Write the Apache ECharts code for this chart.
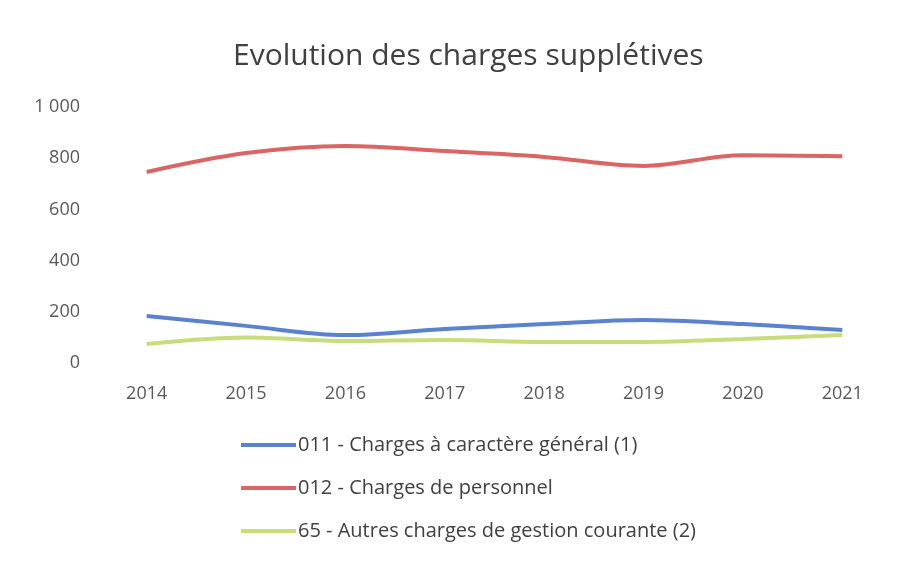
<!DOCTYPE html>
<html>
<head>
<meta charset="utf-8">
<script src="https://cdn.jsdelivr.net/npm/echarts@6/dist/echarts.min.js"></script>
<style>
  html, body { margin: 0; padding: 0; background: #fff; }
  #main { width: 906px; height: 562px; }
</style>
</head>
<body>
<div id="main"></div>
<script>
let years = ['2014', '2015', '2016', '2017', '2018', '2019', '2020', '2021'];
let chargesGenerales = [184, 145, 109, 133, 152, 168, 152, 129];
let chargesPersonnel = [746, 820, 848, 828, 805, 770, 812, 808];
let autresCharges = [74, 100, 86, 90, 82, 82, 94, 109];
let yTicks = [0, 200, 400, 600, 800, 1000];

let myChart = echarts.init(document.getElementById('main'));

let font = 'Open Sans';

function serie(name, values, color) {
    return {
        name: name,
        type: 'line',
        data: values,
        smooth: 0.35,
        symbol: 'none',
        lineStyle: { color: color, width: 4 },
        itemStyle: { color: color }
    };
}

let option = {
    backgroundColor: '#fff',
    textStyle: { fontFamily: font },
    title: {
        text: 'Evolution des charges supplétives',
        left: 228,
        top: 36,
        textStyle: { fontFamily: font, fontSize: 30, fontWeight: 'normal', color: '#404040' }
    },
    grid: { left: 97, right: 14, top: 107, bottom: 199 },
    xAxis: {
        type: 'category',
        data: years,
        axisLine: { show: false },
        axisTick: { show: false },
        axisLabel: { color: '#595959', fontSize: 18, margin: 22 }
    },
    yAxis: {
        type: 'value',
        min: yTicks[0],
        max: yTicks[yTicks.length - 1],
        interval: 200,
        splitLine: { show: false },
        axisLabel: {
            color: '#595959',
            fontSize: 18,
            margin: 17,
            formatter: function (v) { return v >= 1000 ? '1 000' : String(v); }
        }
    },
    legend: {
        orient: 'vertical',
        left: 236,
        top: 430,
        itemWidth: 55,
        itemHeight: 4,
        itemGap: 23,
        icon: 'rect',
        textStyle: { fontSize: 20, color: '#404040', fontFamily: font, padding: [0, 0, 0, -3] }
    },
    series: [
        serie('011 - Charges à caractère général (1)', chargesGenerales, '#5B82CF'),
        serie('012 - Charges de personnel', chargesPersonnel, '#DB6464'),
        serie('65 - Autres charges de gestion courante (2)', autresCharges, '#C7DC7A')
    ]
};

myChart.setOption(option);
</script>
</body>
</html>
